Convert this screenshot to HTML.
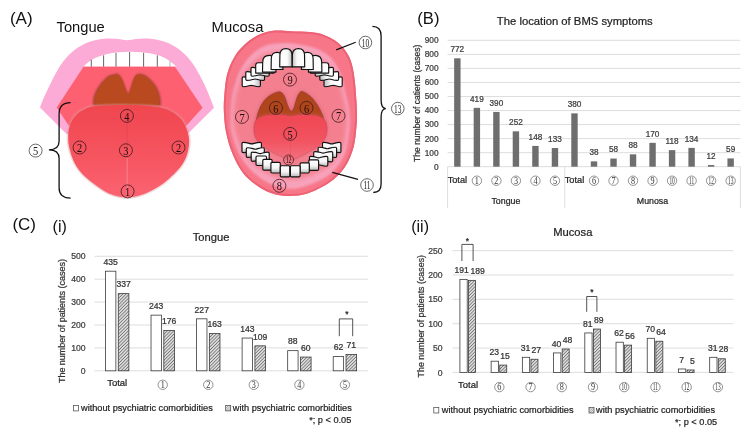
<!DOCTYPE html>
<html><head><meta charset="utf-8"><style>
html,body{margin:0;padding:0;background:#fff;}
body{width:750px;height:432px;overflow:hidden;position:relative;}
svg{position:absolute;left:0;top:0;display:block;will-change:transform;}
text{font-family:'Liberation Sans',sans-serif;}
.b text{stroke:#222;stroke-width:0.22px;paint-order:stroke;}
</style></head><body>
<svg width="750" height="432" viewBox="0 0 750 432">
<defs>
<pattern id="hatch" patternUnits="userSpaceOnUse" width="2.3" height="2.3" patternTransform="rotate(45)">
<rect width="2.3" height="2.3" fill="#dcdcdc"/><line x1="0" y1="0" x2="0" y2="2.3" stroke="#555" stroke-width="1.2"/>
</pattern>
<pattern id="hatch2" patternUnits="userSpaceOnUse" width="1.6" height="1.6" patternTransform="rotate(45)">
<rect width="1.6" height="1.6" fill="#eee"/><line x1="0" y1="0" x2="0" y2="1.6" stroke="#666" stroke-width="0.8"/>
</pattern>
</defs>
<rect width="750" height="432" fill="#fff"/>
<text x="9.9" y="24.2" font-size="17" fill="#111">(A)</text>
<text x="56.6" y="32" font-size="14.7" fill="#111">Tongue</text>
<text x="211.6" y="31.7" font-size="14.8" fill="#111">Mucosa</text>
<text x="417.3" y="24.1" font-size="16.6" fill="#111">(B)</text>
<text x="12.4" y="230.3" font-size="17" fill="#111">(C)</text>
<text x="52.6" y="231.6" font-size="16" fill="#111">(i)</text>
<text x="411.2" y="231.6" font-size="16" fill="#111">(ii)</text>
<defs>
<linearGradient id="tg" x1="0" y1="0" x2="0" y2="1">
<stop offset="0" stop-color="#f0464f"/><stop offset="0.5" stop-color="#f5535e"/><stop offset="1" stop-color="#fb6371"/>
</linearGradient>
<filter id="blur05" x="-5%" y="-5%" width="110%" height="110%"><feGaussianBlur stdDeviation="0.6"/></filter>
<filter id="blur1" x="-10%" y="-10%" width="120%" height="120%"><feGaussianBlur stdDeviation="0.9"/></filter>
<filter id="blur2" x="-10%" y="-10%" width="120%" height="120%"><feGaussianBlur stdDeviation="1.3"/></filter>
</defs>
<g id="tongueIllu">
<path d="M40,107.5 C40.67,105.8 42.57,100.65 44,97.3 C45.43,93.95 46.75,91.22 48.6,87.4 C50.45,83.58 52.78,78.57 55.1,74.4 C57.42,70.23 59.72,66.1 62.5,62.4 C65.28,58.7 68.4,55.13 71.8,52.2 C75.2,49.27 79.2,46.73 82.9,44.8 C86.6,42.87 90.15,41.63 94,40.6 C97.85,39.57 102,38.87 106,38.6 C110,38.33 114.47,38.73 118,39 C121.53,39.27 124.13,40.2 127.2,40.2 C130.27,40.2 132.87,39.27 136.4,39 C139.93,38.73 144.4,38.33 148.4,38.6 C152.4,38.87 156.55,39.57 160.4,40.6 C164.25,41.63 167.8,42.87 171.5,44.8 C175.2,46.73 179.2,49.27 182.6,52.2 C186,55.13 189.12,58.7 191.9,62.4 C194.68,66.1 196.98,70.23 199.3,74.4 C201.62,78.57 203.95,83.38 205.8,87.4 C207.65,91.42 209.03,95.1 210.4,98.5 C211.77,101.9 213.4,106.25 214,107.8 L187.6,134 L66.6,134 Z" fill="#fcabd6"/>
<path d="M83.5,66.6 C84.33,65.83 86.58,63.43 88.5,62 C90.42,60.57 92.48,59.17 95,58 C97.52,56.83 100.1,55.9 103.6,55 C107.1,54.1 111.67,53.15 116,52.6 C120.33,52.05 125,51.72 129.6,51.7 C134.2,51.68 138.98,51.95 143.6,52.5 C148.22,53.05 153.73,54.08 157.3,55 C160.87,55.92 162.72,56.83 165,58 C167.28,59.17 169.12,60.57 171,62 C172.88,63.43 175.42,65.83 176.3,66.6 Z" fill="#fff"/>
<g stroke="#555" stroke-width="0.9">
<line x1="91.3" y1="59.8" x2="91.3" y2="66.8"/>
<line x1="103.6" y1="55.3" x2="103.6" y2="66.8"/>
<line x1="116" y1="52.9" x2="116" y2="66.8"/>
<line x1="129.6" y1="52" x2="129.6" y2="66.8"/>
<line x1="143.6" y1="52.8" x2="143.6" y2="66.8"/>
<line x1="157.3" y1="55.3" x2="157.3" y2="66.8"/>
<line x1="170" y1="61" x2="170" y2="66.8" stroke="#aaa"/>
</g>
<path d="M83.5,66.8 L175,66.8 L202.6,107.8 L186,126 L69,126 L56.7,107.5 Z" fill="#fd6071"/>
<path d="M93.1,105.5 C93.17,104.25 92.97,100.5 93.5,98 C94.03,95.5 94.95,93.07 96.3,90.5 C97.65,87.93 99.62,84.98 101.6,82.6 C103.58,80.22 105.85,77.65 108.2,76.2 C110.55,74.75 113.87,74.1 115.7,73.9 C117.53,73.7 118.1,73.98 119.2,75 C120.3,76.02 121.3,77.92 122.3,80 C123.3,82.08 124.4,85.4 125.2,87.5 C126,89.6 126.62,91.45 127.1,92.6 C127.58,93.75 127.77,94.4 128.1,94.4 C128.43,94.4 128.62,93.75 129.1,92.6 C129.58,91.45 130.3,89.55 131,87.5 C131.7,85.45 132.53,82.25 133.3,80.3 C134.07,78.35 134.58,76.88 135.6,75.8 C136.62,74.72 137.6,73.77 139.4,73.8 C141.2,73.83 144.03,74.47 146.4,76 C148.77,77.53 151.62,80.58 153.6,83 C155.58,85.42 157.18,88 158.3,90.5 C159.42,93 159.88,95.5 160.3,98 C160.72,100.5 160.72,104.25 160.8,105.5 Z" fill="#9a4235" filter="url(#blur1)"/>
<path d="M93.1,105.5 C93.17,104.25 92.97,100.5 93.5,98 C94.03,95.5 94.95,93.07 96.3,90.5 C97.65,87.93 99.62,84.98 101.6,82.6 C103.58,80.22 105.85,77.65 108.2,76.2 C110.55,74.75 113.87,74.1 115.7,73.9 C117.53,73.7 118.1,73.98 119.2,75 C120.3,76.02 121.3,77.92 122.3,80 C123.3,82.08 124.4,85.4 125.2,87.5 C126,89.6 126.62,91.45 127.1,92.6 C127.58,93.75 127.77,94.4 128.1,94.4 C128.43,94.4 128.62,93.75 129.1,92.6 C129.58,91.45 130.3,89.55 131,87.5 C131.7,85.45 132.53,82.25 133.3,80.3 C134.07,78.35 134.58,76.88 135.6,75.8 C136.62,74.72 137.6,73.77 139.4,73.8 C141.2,73.83 144.03,74.47 146.4,76 C148.77,77.53 151.62,80.58 153.6,83 C155.58,85.42 157.18,88 158.3,90.5 C159.42,93 159.88,95.5 160.3,98 C160.72,100.5 160.72,104.25 160.8,105.5 Z" fill="#b9491e" transform="translate(126.5,92) scale(0.965) translate(-126.5,-92)"/>
<path d="M127.2,104.4 C133.03,104.45 139.53,104.42 145,104.8 C150.47,105.18 155.83,105.83 160,106.7 C164.17,107.57 167.08,108.7 170,110 C172.92,111.3 175.25,112.75 177.5,114.5 C179.75,116.25 181.87,118.25 183.5,120.5 C185.13,122.75 186.25,125.25 187.3,128 C188.35,130.75 189.38,134 189.8,137 C190.22,140 190.18,142.83 189.8,146 C189.42,149.17 188.88,152.5 187.5,156 C186.12,159.5 184.08,163.5 181.5,167 C178.92,170.5 174.83,174.23 172,177 C169.17,179.77 167.25,181.55 164.5,183.6 C161.75,185.65 158.6,187.55 155.5,189.3 C152.4,191.05 149.15,192.78 145.9,194.1 C142.65,195.42 139.12,196.5 136,197.2 C132.88,197.9 130.2,198.3 127.2,198.3 C124.2,198.3 121.12,197.9 118,197.2 C114.88,196.5 111.63,195.55 108.5,194.1 C105.37,192.65 102.03,190.35 99.2,188.5 C96.37,186.65 94.05,184.97 91.5,183 C88.95,181.03 86.32,179.12 83.9,176.7 C81.48,174.28 79.07,171.62 77,168.5 C74.93,165.38 73,161.75 71.5,158 C70,154.25 68.7,149.5 68,146 C67.3,142.5 67.3,139.92 67.3,137 C67.3,134.08 67.3,131.42 68,128.5 C68.7,125.58 69.92,122.17 71.5,119.5 C73.08,116.83 75.25,114.42 77.5,112.5 C79.75,110.58 82.12,109.2 85,108 C87.88,106.8 90.63,105.88 94.8,105.3 C98.97,104.72 104.6,104.65 110,104.5 C115.4,104.35 121.37,104.35 127.2,104.4 Z" fill="#dcc4c4" filter="url(#blur2)" opacity="0.5"/>
<path d="M127.2,104.4 C133.03,104.45 139.53,104.42 145,104.8 C150.47,105.18 155.83,105.83 160,106.7 C164.17,107.57 167.08,108.7 170,110 C172.92,111.3 175.25,112.75 177.5,114.5 C179.75,116.25 181.87,118.25 183.5,120.5 C185.13,122.75 186.25,125.25 187.3,128 C188.35,130.75 189.38,134 189.8,137 C190.22,140 190.18,142.83 189.8,146 C189.42,149.17 188.88,152.5 187.5,156 C186.12,159.5 184.08,163.5 181.5,167 C178.92,170.5 174.83,174.23 172,177 C169.17,179.77 167.25,181.55 164.5,183.6 C161.75,185.65 158.6,187.55 155.5,189.3 C152.4,191.05 149.15,192.78 145.9,194.1 C142.65,195.42 139.12,196.5 136,197.2 C132.88,197.9 130.2,198.3 127.2,198.3 C124.2,198.3 121.12,197.9 118,197.2 C114.88,196.5 111.63,195.55 108.5,194.1 C105.37,192.65 102.03,190.35 99.2,188.5 C96.37,186.65 94.05,184.97 91.5,183 C88.95,181.03 86.32,179.12 83.9,176.7 C81.48,174.28 79.07,171.62 77,168.5 C74.93,165.38 73,161.75 71.5,158 C70,154.25 68.7,149.5 68,146 C67.3,142.5 67.3,139.92 67.3,137 C67.3,134.08 67.3,131.42 68,128.5 C68.7,125.58 69.92,122.17 71.5,119.5 C73.08,116.83 75.25,114.42 77.5,112.5 C79.75,110.58 82.12,109.2 85,108 C87.88,106.8 90.63,105.88 94.8,105.3 C98.97,104.72 104.6,104.65 110,104.5 C115.4,104.35 121.37,104.35 127.2,104.4 Z" fill="none" stroke="#c9606a" stroke-width="0.7" opacity="0.3"/>
<path d="M127.2,104.4 C133.03,104.45 139.53,104.42 145,104.8 C150.47,105.18 155.83,105.83 160,106.7 C164.17,107.57 167.08,108.7 170,110 C172.92,111.3 175.25,112.75 177.5,114.5 C179.75,116.25 181.87,118.25 183.5,120.5 C185.13,122.75 186.25,125.25 187.3,128 C188.35,130.75 189.38,134 189.8,137 C190.22,140 190.18,142.83 189.8,146 C189.42,149.17 188.88,152.5 187.5,156 C186.12,159.5 184.08,163.5 181.5,167 C178.92,170.5 174.83,174.23 172,177 C169.17,179.77 167.25,181.55 164.5,183.6 C161.75,185.65 158.6,187.55 155.5,189.3 C152.4,191.05 149.15,192.78 145.9,194.1 C142.65,195.42 139.12,196.5 136,197.2 C132.88,197.9 130.2,198.3 127.2,198.3 C124.2,198.3 121.12,197.9 118,197.2 C114.88,196.5 111.63,195.55 108.5,194.1 C105.37,192.65 102.03,190.35 99.2,188.5 C96.37,186.65 94.05,184.97 91.5,183 C88.95,181.03 86.32,179.12 83.9,176.7 C81.48,174.28 79.07,171.62 77,168.5 C74.93,165.38 73,161.75 71.5,158 C70,154.25 68.7,149.5 68,146 C67.3,142.5 67.3,139.92 67.3,137 C67.3,134.08 67.3,131.42 68,128.5 C68.7,125.58 69.92,122.17 71.5,119.5 C73.08,116.83 75.25,114.42 77.5,112.5 C79.75,110.58 82.12,109.2 85,108 C87.88,106.8 90.63,105.88 94.8,105.3 C98.97,104.72 104.6,104.65 110,104.5 C115.4,104.35 121.37,104.35 127.2,104.4 Z" fill="url(#tg)" transform="translate(127.2,151) scale(0.985) translate(-127.2,-151)" filter="url(#blur05)"/>
<line x1="127.2" y1="106" x2="127.2" y2="158" stroke="#d64452" stroke-width="0.8" opacity="0.6"/>
<line x1="127.2" y1="158" x2="127.2" y2="196" stroke="#fb9aa4" stroke-width="0.9" opacity="0.7"/>
</g>
<defs>
<radialGradient id="mi" cx="0.5" cy="0.52" r="0.55">
<stop offset="0" stop-color="#f26878"/><stop offset="0.6" stop-color="#f37d8e"/><stop offset="0.9" stop-color="#f599ae"/><stop offset="1" stop-color="#f7a4ba"/>
</radialGradient>
<linearGradient id="mtg" x1="0" y1="0" x2="0" y2="1"><stop offset="0" stop-color="#ef4753"/><stop offset="0.55" stop-color="#f2525f"/><stop offset="1" stop-color="#f3707f"/></linearGradient>
<linearGradient id="tw" x1="0" y1="0" x2="1" y2="0"><stop offset="0" stop-color="#fff"/><stop offset="0.6" stop-color="#fafafa"/><stop offset="1" stop-color="#bdbdbd"/></linearGradient>
<linearGradient id="tw2" x1="1" y1="0" x2="0" y2="0"><stop offset="0" stop-color="#fff"/><stop offset="0.6" stop-color="#fafafa"/><stop offset="1" stop-color="#bdbdbd"/></linearGradient>
<linearGradient id="tl" x1="0" y1="0" x2="0" y2="1"><stop offset="0" stop-color="#fff"/><stop offset="0.55" stop-color="#f4f4f4"/><stop offset="1" stop-color="#b8b8b8"/></linearGradient>
<filter id="blur3" x="-20%" y="-20%" width="140%" height="140%"><feGaussianBlur stdDeviation="2.2"/></filter>
<filter id="blur5" x="-20%" y="-20%" width="140%" height="140%"><feGaussianBlur stdDeviation="0.6"/></filter>
<filter id="blur6" x="-20%" y="-20%" width="140%" height="140%"><feGaussianBlur stdDeviation="2.2"/></filter>
<filter id="blur05m" x="-5%" y="-5%" width="110%" height="110%"><feGaussianBlur stdDeviation="0.8"/></filter>
<filter id="blur4" x="-20%" y="-20%" width="140%" height="140%"><feGaussianBlur stdDeviation="1.2"/></filter>
</defs>
<g id="mucosaIllu">
<clipPath id="lipclip"><path d="M275,30.6 C280,30.15 284.97,31.05 290.8,31.3 C296.63,31.55 304.48,31.5 310,32.1 C315.52,32.7 319.73,33.52 323.9,34.9 C328.07,36.28 331.77,38.22 335,40.4 C338.23,42.58 340.87,45.1 343.3,48 C345.73,50.9 347.98,54.32 349.6,57.8 C351.22,61.28 352.15,65.2 353,68.9 C353.85,72.6 354.23,76.15 354.7,80 C355.17,83.85 355.43,87 355.8,92 C356.17,97 356.77,104.5 356.9,110 C357.03,115.5 357.17,118.77 356.6,125 C356.03,131.23 355.47,140.37 353.5,147.4 C351.53,154.43 348.82,161.33 344.8,167.2 C340.78,173.07 335.63,178.2 329.4,182.6 C323.17,187 313.97,191.37 307.4,193.6 C300.83,195.83 295.57,195.93 290,196 C284.43,196.07 279.17,195.5 274,194 C268.83,192.5 264.07,190.37 259,187 C253.93,183.63 248,179.3 243.6,173.8 C239.2,168.3 235.53,160.97 232.6,154 C229.67,147.03 227.47,139.33 226,132 C224.53,124.67 224.03,116.67 223.8,110 C223.57,103.33 224.18,97.33 224.6,92 C225.02,86.67 225.47,82.22 226.3,78 C227.13,73.78 228.25,70.2 229.6,66.7 C230.95,63.2 232.55,60.02 234.4,57 C236.25,53.98 238.15,51.38 240.7,48.6 C243.25,45.82 246.35,42.73 249.7,40.3 C253.05,37.87 256.58,35.62 260.8,34 C265.02,32.38 270,31.05 275,30.6 Z"/></clipPath>
<path d="M275,30.6 C280,30.15 284.97,31.05 290.8,31.3 C296.63,31.55 304.48,31.5 310,32.1 C315.52,32.7 319.73,33.52 323.9,34.9 C328.07,36.28 331.77,38.22 335,40.4 C338.23,42.58 340.87,45.1 343.3,48 C345.73,50.9 347.98,54.32 349.6,57.8 C351.22,61.28 352.15,65.2 353,68.9 C353.85,72.6 354.23,76.15 354.7,80 C355.17,83.85 355.43,87 355.8,92 C356.17,97 356.77,104.5 356.9,110 C357.03,115.5 357.17,118.77 356.6,125 C356.03,131.23 355.47,140.37 353.5,147.4 C351.53,154.43 348.82,161.33 344.8,167.2 C340.78,173.07 335.63,178.2 329.4,182.6 C323.17,187 313.97,191.37 307.4,193.6 C300.83,195.83 295.57,195.93 290,196 C284.43,196.07 279.17,195.5 274,194 C268.83,192.5 264.07,190.37 259,187 C253.93,183.63 248,179.3 243.6,173.8 C239.2,168.3 235.53,160.97 232.6,154 C229.67,147.03 227.47,139.33 226,132 C224.53,124.67 224.03,116.67 223.8,110 C223.57,103.33 224.18,97.33 224.6,92 C225.02,86.67 225.47,82.22 226.3,78 C227.13,73.78 228.25,70.2 229.6,66.7 C230.95,63.2 232.55,60.02 234.4,57 C236.25,53.98 238.15,51.38 240.7,48.6 C243.25,45.82 246.35,42.73 249.7,40.3 C253.05,37.87 256.58,35.62 260.8,34 C265.02,32.38 270,31.05 275,30.6 Z" fill="#f77789"/>
<path d="M275,30.6 C280,30.15 284.97,31.05 290.8,31.3 C296.63,31.55 304.48,31.5 310,32.1 C315.52,32.7 319.73,33.52 323.9,34.9 C328.07,36.28 331.77,38.22 335,40.4 C338.23,42.58 340.87,45.1 343.3,48 C345.73,50.9 347.98,54.32 349.6,57.8 C351.22,61.28 352.15,65.2 353,68.9 C353.85,72.6 354.23,76.15 354.7,80 C355.17,83.85 355.43,87 355.8,92 C356.17,97 356.77,104.5 356.9,110 C357.03,115.5 357.17,118.77 356.6,125 C356.03,131.23 355.47,140.37 353.5,147.4 C351.53,154.43 348.82,161.33 344.8,167.2 C340.78,173.07 335.63,178.2 329.4,182.6 C323.17,187 313.97,191.37 307.4,193.6 C300.83,195.83 295.57,195.93 290,196 C284.43,196.07 279.17,195.5 274,194 C268.83,192.5 264.07,190.37 259,187 C253.93,183.63 248,179.3 243.6,173.8 C239.2,168.3 235.53,160.97 232.6,154 C229.67,147.03 227.47,139.33 226,132 C224.53,124.67 224.03,116.67 223.8,110 C223.57,103.33 224.18,97.33 224.6,92 C225.02,86.67 225.47,82.22 226.3,78 C227.13,73.78 228.25,70.2 229.6,66.7 C230.95,63.2 232.55,60.02 234.4,57 C236.25,53.98 238.15,51.38 240.7,48.6 C243.25,45.82 246.35,42.73 249.7,40.3 C253.05,37.87 256.58,35.62 260.8,34 C265.02,32.38 270,31.05 275,30.6 Z" fill="none" stroke="#ee6275" stroke-width="4" clip-path="url(#lipclip)" filter="url(#blur5)"/>
<path d="M290.8,43.2 C296.47,43.72 305.42,45.67 310,46.7 C314.58,47.73 315.52,48.13 318.3,49.4 C321.08,50.67 324.03,52.2 326.7,54.3 C329.37,56.4 332.1,59.1 334.3,62 C336.5,64.9 338.4,68.23 339.9,71.7 C341.4,75.17 342.37,79.25 343.3,82.8 C344.23,86.35 344.63,89.3 345.5,93 C346.37,96.7 347.78,100.83 348.5,105 C349.22,109.17 349.68,113.5 349.8,118 C349.92,122.5 350.03,126 349.2,132 C348.37,138 347.73,147.22 344.8,154 C341.87,160.78 337.47,167.57 331.6,172.7 C325.73,177.83 316.53,182.13 309.6,184.8 C302.67,187.47 296.6,188.88 290,188.7 C283.4,188.52 276.27,186.55 270,183.7 C263.73,180.85 257.53,176.55 252.4,171.6 C247.27,166.65 242.68,160.6 239.2,154 C235.72,147.4 232.93,138.5 231.5,132 C230.07,125.5 230.52,120.83 230.6,115 C230.68,109.17 231.23,102.17 232,97 C232.77,91.83 233.98,88.13 235.2,84 C236.42,79.87 237.57,75.9 239.3,72.2 C241.03,68.5 243.17,65.03 245.6,61.8 C248.03,58.57 250.9,55.35 253.9,52.8 C256.9,50.25 259.92,48.03 263.6,46.5 C267.28,44.97 271.47,44.15 276,43.6 C280.53,43.05 285.13,42.68 290.8,43.2 Z" fill="#f7a2bb" filter="url(#blur05m)"/>
<path d="M290.8,43.2 C296.47,43.72 305.42,45.67 310,46.7 C314.58,47.73 315.52,48.13 318.3,49.4 C321.08,50.67 324.03,52.2 326.7,54.3 C329.37,56.4 332.1,59.1 334.3,62 C336.5,64.9 338.4,68.23 339.9,71.7 C341.4,75.17 342.37,79.25 343.3,82.8 C344.23,86.35 344.63,89.3 345.5,93 C346.37,96.7 347.78,100.83 348.5,105 C349.22,109.17 349.68,113.5 349.8,118 C349.92,122.5 350.03,126 349.2,132 C348.37,138 347.73,147.22 344.8,154 C341.87,160.78 337.47,167.57 331.6,172.7 C325.73,177.83 316.53,182.13 309.6,184.8 C302.67,187.47 296.6,188.88 290,188.7 C283.4,188.52 276.27,186.55 270,183.7 C263.73,180.85 257.53,176.55 252.4,171.6 C247.27,166.65 242.68,160.6 239.2,154 C235.72,147.4 232.93,138.5 231.5,132 C230.07,125.5 230.52,120.83 230.6,115 C230.68,109.17 231.23,102.17 232,97 C232.77,91.83 233.98,88.13 235.2,84 C236.42,79.87 237.57,75.9 239.3,72.2 C241.03,68.5 243.17,65.03 245.6,61.8 C248.03,58.57 250.9,55.35 253.9,52.8 C256.9,50.25 259.92,48.03 263.6,46.5 C267.28,44.97 271.47,44.15 276,43.6 C280.53,43.05 285.13,42.68 290.8,43.2 Z" fill="#f4808f" transform="translate(290,112) scale(0.95,0.88) translate(-290,-112)" filter="url(#blur6)"/>
<path d="M256.4,120.2 C256.4,117.37 257.75,113.2 259,110 C260.25,106.8 261.85,103.57 263.9,101 C265.95,98.43 268.9,96.12 271.3,94.6 C273.7,93.08 276.52,92.17 278.3,91.9 C280.08,91.63 280.95,92.23 282,93 C283.05,93.77 283.72,94.63 284.6,96.5 C285.48,98.37 286.47,102.02 287.3,104.2 C288.13,106.38 288.88,108.43 289.6,109.6 C290.32,110.77 290.93,111.38 291.6,111.2 C292.27,111.02 292.93,110.03 293.6,108.5 C294.27,106.97 294.93,104.08 295.6,102 C296.27,99.92 296.9,97.57 297.6,96 C298.3,94.43 299.02,93.37 299.8,92.6 C300.58,91.83 300.65,90.88 302.3,91.4 C303.95,91.92 307.4,93.75 309.7,95.7 C312,97.65 314.13,100.27 316.1,103.1 C318.07,105.93 320.25,110.03 321.5,112.7 C322.75,115.37 323.52,116.72 323.6,119.1 C323.68,121.48 327.52,125.02 322,127 C316.48,128.98 301,131 290.5,131 C280,131 264.68,128.8 259,127 C253.32,125.2 256.4,123.03 256.4,120.2 Z" fill="#c0505a" filter="url(#blur3)" opacity="0.7"/>
<path d="M256.4,120.2 C256.4,117.37 257.75,113.2 259,110 C260.25,106.8 261.85,103.57 263.9,101 C265.95,98.43 268.9,96.12 271.3,94.6 C273.7,93.08 276.52,92.17 278.3,91.9 C280.08,91.63 280.95,92.23 282,93 C283.05,93.77 283.72,94.63 284.6,96.5 C285.48,98.37 286.47,102.02 287.3,104.2 C288.13,106.38 288.88,108.43 289.6,109.6 C290.32,110.77 290.93,111.38 291.6,111.2 C292.27,111.02 292.93,110.03 293.6,108.5 C294.27,106.97 294.93,104.08 295.6,102 C296.27,99.92 296.9,97.57 297.6,96 C298.3,94.43 299.02,93.37 299.8,92.6 C300.58,91.83 300.65,90.88 302.3,91.4 C303.95,91.92 307.4,93.75 309.7,95.7 C312,97.65 314.13,100.27 316.1,103.1 C318.07,105.93 320.25,110.03 321.5,112.7 C322.75,115.37 323.52,116.72 323.6,119.1 C323.68,121.48 327.52,125.02 322,127 C316.48,128.98 301,131 290.5,131 C280,131 264.68,128.8 259,127 C253.32,125.2 256.4,123.03 256.4,120.2 Z" fill="#b0441c" stroke="#8a3a40" stroke-width="0.9" stroke-opacity="0.6" filter="url(#blur5)"/>
<path d="M290.5,115.8 C293.67,115.8 296.42,114.77 300,114.6 C303.58,114.43 308.5,114.4 312,114.8 C315.5,115.2 318.67,115.8 321,117 C323.33,118.2 324.97,119.83 326,122 C327.03,124.17 327.3,127.33 327.2,130 C327.1,132.67 326.6,135.5 325.4,138 C324.2,140.5 322.57,142.75 320,145 C317.43,147.25 313.33,149.58 310,151.5 C306.67,153.42 303.25,155.05 300,156.5 C296.75,157.95 293.67,160.2 290.5,160.2 C287.33,160.2 284.25,157.95 281,156.5 C277.75,155.05 274.33,153.42 271,151.5 C267.67,149.58 263.57,147.25 261,145 C258.43,142.75 256.8,140.5 255.6,138 C254.4,135.5 253.9,132.67 253.8,130 C253.7,127.33 253.97,124.17 255,122 C256.03,119.83 257.67,118.2 260,117 C262.33,115.8 265.5,115.2 269,114.8 C272.5,114.4 277.42,114.43 281,114.6 C284.58,114.77 287.33,115.8 290.5,115.8 Z" fill="#e86070" filter="url(#blur3)" opacity="0.6"/>
<path d="M290.5,115.8 C293.67,115.8 296.42,114.77 300,114.6 C303.58,114.43 308.5,114.4 312,114.8 C315.5,115.2 318.67,115.8 321,117 C323.33,118.2 324.97,119.83 326,122 C327.03,124.17 327.3,127.33 327.2,130 C327.1,132.67 326.6,135.5 325.4,138 C324.2,140.5 322.57,142.75 320,145 C317.43,147.25 313.33,149.58 310,151.5 C306.67,153.42 303.25,155.05 300,156.5 C296.75,157.95 293.67,160.2 290.5,160.2 C287.33,160.2 284.25,157.95 281,156.5 C277.75,155.05 274.33,153.42 271,151.5 C267.67,149.58 263.57,147.25 261,145 C258.43,142.75 256.8,140.5 255.6,138 C254.4,135.5 253.9,132.67 253.8,130 C253.7,127.33 253.97,124.17 255,122 C256.03,119.83 257.67,118.2 260,117 C262.33,115.8 265.5,115.2 269,114.8 C272.5,114.4 277.42,114.43 281,114.6 C284.58,114.77 287.33,115.8 290.5,115.8 Z" fill="url(#mtg)" filter="url(#blur5)"/>
<path d="M290.5,115.8 C293.67,115.8 296.42,114.77 300,114.6 C303.58,114.43 308.5,114.4 312,114.8 C315.5,115.2 318.67,115.8 321,117 C323.33,118.2 324.97,119.83 326,122 C327.03,124.17 327.3,127.33 327.2,130 C327.1,132.67 326.6,135.5 325.4,138 C324.2,140.5 322.57,142.75 320,145 C317.43,147.25 313.33,149.58 310,151.5 C306.67,153.42 303.25,155.05 300,156.5 C296.75,157.95 293.67,160.2 290.5,160.2 C287.33,160.2 284.25,157.95 281,156.5 C277.75,155.05 274.33,153.42 271,151.5 C267.67,149.58 263.57,147.25 261,145 C258.43,142.75 256.8,140.5 255.6,138 C254.4,135.5 253.9,132.67 253.8,130 C253.7,127.33 253.97,124.17 255,122 C256.03,119.83 257.67,118.2 260,117 C262.33,115.8 265.5,115.2 269,114.8 C272.5,114.4 277.42,114.43 281,114.6 C284.58,114.77 287.33,115.8 290.5,115.8 Z" fill="none" stroke="#8a4a5a" stroke-width="0.8" opacity="0.35" filter="url(#blur5)"/>
<line x1="290.5" y1="116" x2="290.5" y2="157" stroke="#d9505c" stroke-width="0.6" opacity="0.6"/>
<g stroke="#111" stroke-width="1.15" stroke-linejoin="round">
<path d="M242.2,78 Q242.2,76.8 243.4,76.8 C247.66,76.8 249.3,78.2 251.3,78.2 C253.3,78.2 254.94,76.8 259.2,76.8 Q260.4,76.8 260.4,78 L260.4,85.5 Q260.4,86.7 259.2,86.7 C254.94,86.7 253.3,85.3 251.3,85.3 C249.3,85.3 247.66,86.7 243.4,86.7 Q242.2,86.7 242.2,85.5 Z" fill="url(#tw)"/>
<path d="M324,78 Q324,76.8 325.2,76.8 C329.46,76.8 331.1,78.2 333.1,78.2 C335.1,78.2 336.74,76.8 341,76.8 Q342.2,76.8 342.2,78 L342.2,85.5 Q342.2,86.7 341,86.7 C336.74,86.7 335.1,85.3 333.1,85.3 C331.1,85.3 329.46,86.7 325.2,86.7 Q324,86.7 324,85.5 Z" fill="url(#tw2)"/>
<path d="M245.8,72.8 Q245.8,71.6 247,71.6 C251.44,71.6 253.2,73 255.2,73 C257.2,73 258.96,71.6 263.4,71.6 Q264.6,71.6 264.6,72.8 L264.6,79.2 Q264.6,80.4 263.4,80.4 C258.96,80.4 257.2,79 255.2,79 C253.2,79 251.44,80.4 247,80.4 Q245.8,80.4 245.8,79.2 Z" fill="url(#tw)"/>
<path d="M319.8,72.8 Q319.8,71.6 321,71.6 C325.44,71.6 327.2,73 329.2,73 C331.2,73 332.96,71.6 337.4,71.6 Q338.6,71.6 338.6,72.8 L338.6,79.2 Q338.6,80.4 337.4,80.4 C332.96,80.4 331.2,79 329.2,79 C327.2,79 325.44,80.4 321,80.4 Q319.8,80.4 319.8,79.2 Z" fill="url(#tw2)"/>
<path d="M251,68.6 Q251,67.4 252.2,67.4 C256.46,67.4 258.1,68.8 260.1,68.8 C262.1,68.8 263.74,67.4 268,67.4 Q269.2,67.4 269.2,68.6 L269.2,75 Q269.2,76.2 268,76.2 C263.74,76.2 262.1,74.8 260.1,74.8 C258.1,74.8 256.46,76.2 252.2,76.2 Q251,76.2 251,75 Z" fill="url(#tw)"/>
<path d="M315.2,68.6 Q315.2,67.4 316.4,67.4 C320.66,67.4 322.3,68.8 324.3,68.8 C326.3,68.8 327.94,67.4 332.2,67.4 Q333.4,67.4 333.4,68.6 L333.4,75 Q333.4,76.2 332.2,76.2 C327.94,76.2 326.3,74.8 324.3,74.8 C322.3,74.8 320.66,76.2 316.4,76.2 Q315.2,76.2 315.2,75 Z" fill="url(#tw2)"/>
<path d="M255.7,73.1 L255.7,65.2 Q255.7,62.7 258.2,62.7 L271.5,62.7 Q274,62.7 274,65.2 L274,73.1 Z" fill="url(#tw)"/>
<path d="M310.4,73.1 L310.4,65.2 Q310.4,62.7 312.9,62.7 L326.2,62.7 Q328.7,62.7 328.7,65.2 L328.7,73.1 Z" fill="url(#tw2)"/>
<path d="M262.5,72.1 L262.7,62.15 C262.8,56.75 265.47,55.4 269.25,55.4 C273.03,55.4 275.7,56.75 275.8,62.15 L276,72.1 Z" fill="url(#tw)"/>
<path d="M308.4,72.1 L308.6,62.15 C308.7,56.75 311.37,55.4 315.15,55.4 C318.93,55.4 321.6,56.75 321.7,62.15 L321.9,72.1 Z" fill="url(#tw2)"/>
<path d="M271.1,69.5 L271.3,58.25 C271.4,53.49 273.72,52.3 277.05,52.3 C280.38,52.3 282.7,53.49 282.8,58.25 L283,69.5 Z" fill="url(#tw)"/>
<path d="M301.4,69.5 L301.6,58.25 C301.7,53.49 304.02,52.3 307.35,52.3 C310.68,52.3 313,53.49 313.1,58.25 L313.3,69.5 Z" fill="url(#tw2)"/>
<path d="M279.7,66.8 L279.9,54.85 C280,49.85 282.45,48.6 285.95,48.6 C289.45,48.6 291.9,49.85 292,54.85 L292.2,66.8 Z" fill="url(#tw)"/>
<path d="M292.2,66.8 L292.4,54.85 C292.5,49.85 294.95,48.6 298.45,48.6 C301.95,48.6 304.4,49.85 304.5,54.85 L304.7,66.8 Z" fill="url(#tw2)"/>
<path d="M242,143.6 Q242,142.4 243.2,142.4 C247.82,142.4 249.7,143.9 251.7,143.9 C253.7,143.9 255.58,142.4 260.2,142.4 Q261.4,142.4 261.4,143.6 L261.4,151.4 Q261.4,152.6 260.2,152.6 C255.58,152.6 253.7,151.1 251.7,151.1 C249.7,151.1 247.82,152.6 243.2,152.6 Q242,152.6 242,151.4 Z" fill="url(#tl)"/>
<path d="M322.5,143.6 Q322.5,142.4 323.7,142.4 C328.02,142.4 329.7,143.9 331.7,143.9 C333.7,143.9 335.38,142.4 339.7,142.4 Q340.9,142.4 340.9,143.6 L340.9,151.4 Q340.9,152.6 339.7,152.6 C335.38,152.6 333.7,151.1 331.7,151.1 C329.7,151.1 328.02,152.6 323.7,152.6 Q322.5,152.6 322.5,151.4 Z" fill="url(#tl)"/>
<path d="M246.3,148.9 Q246.3,147.7 247.5,147.7 C251.7,147.7 253.3,149.2 255.3,149.2 C257.3,149.2 258.9,147.7 263.1,147.7 Q264.3,147.7 264.3,148.9 L264.3,156.2 Q264.3,157.4 263.1,157.4 C258.9,157.4 257.3,155.9 255.3,155.9 C253.3,155.9 251.7,157.4 247.5,157.4 Q246.3,157.4 246.3,156.2 Z" fill="url(#tl)"/>
<path d="M318.1,148.4 Q318.1,147.2 319.3,147.2 C323.65,147.2 325.35,148.7 327.35,148.7 C329.35,148.7 331.05,147.2 335.4,147.2 Q336.6,147.2 336.6,148.4 L336.6,156.3 Q336.6,157.5 335.4,157.5 C331.05,157.5 329.35,156 327.35,156 C325.35,156 323.65,157.5 319.3,157.5 Q318.1,157.5 318.1,156.3 Z" fill="url(#tl)"/>
<path d="M251.2,153.3 Q251.2,152.1 252.4,152.1 C256.6,152.1 258.2,153.6 260.2,153.6 C262.2,153.6 263.8,152.1 268,152.1 Q269.2,152.1 269.2,153.3 L269.2,160.1 Q269.2,161.3 268,161.3 C263.8,161.3 262.2,159.8 260.2,159.8 C258.2,159.8 256.6,161.3 252.4,161.3 Q251.2,161.3 251.2,160.1 Z" fill="url(#tl)"/>
<path d="M313.7,152.8 Q313.7,151.6 314.9,151.6 C319.4,151.6 321.2,153.1 323.2,153.1 C325.2,153.1 327,151.6 331.5,151.6 Q332.7,151.6 332.7,152.8 L332.7,160.6 Q332.7,161.8 331.5,161.8 C327,161.8 325.2,160.3 323.2,160.3 C321.2,160.3 319.4,161.8 314.9,161.8 Q313.7,161.8 313.7,160.6 Z" fill="url(#tl)"/>
<path d="M257.2,156 L265.3,156 Q266.5,156 266.5,157.2 L266.5,164.3 Q266.5,165.5 265.3,165.5 L257.2,165.5 Q256,165.5 256,164.3 L256,157.2 Q256,156 257.2,156 Z" fill="url(#tl)"/>
<path d="M309.5,157.5 Q309.5,156.3 310.7,156.3 C314.99,156.3 316.65,157.8 318.65,157.8 C320.65,157.8 322.31,156.3 326.6,156.3 Q327.8,156.3 327.8,157.5 L327.8,165 Q327.8,166.2 326.6,166.2 C322.31,166.2 320.65,164.7 318.65,164.7 C316.65,164.7 314.99,166.2 310.7,166.2 Q309.5,166.2 309.5,165 Z" fill="url(#tl)"/>
<path d="M264,159.4 L270.9,159.4 Q272.1,159.4 272.1,160.6 L272.1,168.9 Q272.1,170.1 270.9,170.1 L264,170.1 Q262.8,170.1 262.8,168.9 L262.8,160.6 Q262.8,159.4 264,159.4 Z" fill="url(#tl)"/>
<path d="M310,159.9 L317.4,159.9 Q318.6,159.9 318.6,161.1 L318.6,169.2 Q318.6,170.4 317.4,170.4 L310,170.4 Q308.8,170.4 308.8,169.2 L308.8,161.1 Q308.8,159.9 310,159.9 Z" fill="url(#tl)"/>
<path d="M272.1,162.3 L279.1,162.3 Q280.3,162.3 280.3,163.5 L280.3,171.8 Q280.3,173 279.1,173 L272.1,173 Q270.9,173 270.9,171.8 L270.9,163.5 Q270.9,162.3 272.1,162.3 Z" fill="url(#tl)"/>
<path d="M301.3,162.8 L308.1,162.8 Q309.3,162.8 309.3,164 L309.3,171.8 Q309.3,173 308.1,173 L301.3,173 Q300.1,173 300.1,171.8 L300.1,164 Q300.1,162.8 301.3,162.8 Z" fill="url(#tl)"/>
<path d="M281.5,165.7 L288.6,165.7 Q289.8,165.7 289.8,166.9 L289.8,175.7 Q289.8,176.9 288.6,176.9 L281.5,176.9 Q280.3,176.9 280.3,175.7 L280.3,166.9 Q280.3,165.7 281.5,165.7 Z" fill="url(#tl)"/>
<path d="M291.6,165.7 L298.9,165.7 Q300.1,165.7 300.1,166.9 L300.1,175.7 Q300.1,176.9 298.9,176.9 L291.6,176.9 Q290.4,176.9 290.4,175.7 L290.4,166.9 Q290.4,165.7 291.6,165.7 Z" fill="url(#tl)"/>
</g>
</g>
<circle cx="126.9" cy="115.9" r="6.5" fill="none" stroke="#3a1a1a" stroke-width="0.8"/><text transform="translate(126.9,120.58) scale(0.8,1)" font-size="13" text-anchor="middle" fill="#1a0a0a" style="font-family:'Liberation Serif',serif">4</text>
<circle cx="125.9" cy="150.3" r="6.5" fill="none" stroke="#3a1a1a" stroke-width="0.8"/><text transform="translate(125.9,154.98) scale(0.8,1)" font-size="13" text-anchor="middle" fill="#1a0a0a" style="font-family:'Liberation Serif',serif">3</text>
<circle cx="79.6" cy="147.5" r="6.5" fill="none" stroke="#3a1a1a" stroke-width="0.8"/><text transform="translate(79.6,152.18) scale(0.8,1)" font-size="13" text-anchor="middle" fill="#1a0a0a" style="font-family:'Liberation Serif',serif">2</text>
<circle cx="178.5" cy="147.5" r="6.5" fill="none" stroke="#3a1a1a" stroke-width="0.8"/><text transform="translate(178.5,152.18) scale(0.8,1)" font-size="13" text-anchor="middle" fill="#1a0a0a" style="font-family:'Liberation Serif',serif">2</text>
<circle cx="127.6" cy="191.4" r="6.5" fill="none" stroke="#3a1a1a" stroke-width="0.8"/><text transform="translate(127.6,196.08) scale(0.8,1)" font-size="13" text-anchor="middle" fill="#1a0a0a" style="font-family:'Liberation Serif',serif">1</text>
<circle cx="35.6" cy="150.6" r="6.5" fill="none" stroke="#444" stroke-width="0.8"/><text transform="translate(35.6,155.28) scale(0.8,1)" font-size="13" text-anchor="middle" fill="#222" style="font-family:'Liberation Serif',serif">5</text>
<path d="M70.6,102.6 C64,102.6 59.1,106 59.1,114 L59.1,141 C59.1,147 55,149.8 48.9,149.8 C55,149.8 59.1,152.5 59.1,158.5 L59.1,188 C59.1,195 64,198.2 70.6,198.2" fill="none" stroke="#111" stroke-width="1.3"/>
<circle cx="290" cy="79.6" r="6.5" fill="none" stroke="#3a1a1a" stroke-width="0.8"/><text transform="translate(290,84.28) scale(0.8,1)" font-size="13" text-anchor="middle" fill="#1a0a0a" style="font-family:'Liberation Serif',serif">9</text>
<circle cx="275.9" cy="107.9" r="6.5" fill="none" stroke="#3a1a1a" stroke-width="0.8"/><text transform="translate(275.9,112.58) scale(0.8,1)" font-size="13" text-anchor="middle" fill="#1a0a0a" style="font-family:'Liberation Serif',serif">6</text>
<circle cx="306.5" cy="107.9" r="6.5" fill="none" stroke="#3a1a1a" stroke-width="0.8"/><text transform="translate(306.5,112.58) scale(0.8,1)" font-size="13" text-anchor="middle" fill="#1a0a0a" style="font-family:'Liberation Serif',serif">6</text>
<circle cx="242" cy="116.9" r="6.5" fill="none" stroke="#3a1a1a" stroke-width="0.8"/><text transform="translate(242,121.58) scale(0.8,1)" font-size="13" text-anchor="middle" fill="#1a0a0a" style="font-family:'Liberation Serif',serif">7</text>
<circle cx="338.5" cy="115.8" r="6.5" fill="none" stroke="#3a1a1a" stroke-width="0.8"/><text transform="translate(338.5,120.48) scale(0.8,1)" font-size="13" text-anchor="middle" fill="#1a0a0a" style="font-family:'Liberation Serif',serif">7</text>
<circle cx="290.2" cy="133.9" r="6.5" fill="none" stroke="#3a1a1a" stroke-width="0.8"/><text transform="translate(290.2,138.58) scale(0.8,1)" font-size="13" text-anchor="middle" fill="#1a0a0a" style="font-family:'Liberation Serif',serif">5</text>
<circle cx="279.4" cy="185.8" r="6.5" fill="none" stroke="#3a1a1a" stroke-width="0.8"/><text transform="translate(279.4,190.48) scale(0.8,1)" font-size="13" text-anchor="middle" fill="#1a0a0a" style="font-family:'Liberation Serif',serif">8</text>
<circle cx="288.6" cy="159.9" r="5" fill="none" stroke="#3a1a1a" stroke-width="0.7"/><text transform="translate(288.6,163.32) scale(0.6,1)" font-size="9.5" text-anchor="middle" fill="#1a0a0a" style="font-family:'Liberation Serif',serif">12</text>
<circle cx="365.4" cy="42.5" r="6.3" fill="none" stroke="#444" stroke-width="0.8"/><text transform="translate(365.4,46.82) scale(0.62,1)" font-size="12" text-anchor="middle" fill="#1a1a1a" style="font-family:'Liberation Serif',serif">10</text>
<circle cx="367" cy="185" r="6.3" fill="none" stroke="#444" stroke-width="0.8"/><text transform="translate(367,189.32) scale(0.62,1)" font-size="12" text-anchor="middle" fill="#1a1a1a" style="font-family:'Liberation Serif',serif">11</text>
<circle cx="397.8" cy="108.6" r="6.3" fill="none" stroke="#444" stroke-width="0.8"/><text transform="translate(397.8,112.92) scale(0.62,1)" font-size="12" text-anchor="middle" fill="#1a1a1a" style="font-family:'Liberation Serif',serif">13</text>
<line x1="336.2" y1="49.9" x2="355.7" y2="42.2" stroke="#111" stroke-width="1.2"/>
<line x1="332.3" y1="172.3" x2="358" y2="179.4" stroke="#111" stroke-width="1.2"/>
<path d="M372.4,26.3 C378,26.3 381.1,29.5 381.1,36 L381.1,100 C381.1,105.5 382.8,108.4 385.8,108.6 C382.8,108.8 381.1,111.5 381.1,117 L381.1,184 C381.1,190 378,192.5 373.3,192.5" fill="none" stroke="#111" stroke-width="1.3"/>
<g class="b">
<line x1="447.6" y1="152.66" x2="740.4" y2="152.66" stroke="#d9d9d9" stroke-width="0.9"/>
<line x1="447.6" y1="138.62" x2="740.4" y2="138.62" stroke="#d9d9d9" stroke-width="0.9"/>
<line x1="447.6" y1="124.58" x2="740.4" y2="124.58" stroke="#d9d9d9" stroke-width="0.9"/>
<line x1="447.6" y1="110.54" x2="740.4" y2="110.54" stroke="#d9d9d9" stroke-width="0.9"/>
<line x1="447.6" y1="96.5" x2="740.4" y2="96.5" stroke="#d9d9d9" stroke-width="0.9"/>
<line x1="447.6" y1="82.46" x2="740.4" y2="82.46" stroke="#d9d9d9" stroke-width="0.9"/>
<line x1="447.6" y1="68.42" x2="740.4" y2="68.42" stroke="#d9d9d9" stroke-width="0.9"/>
<line x1="447.6" y1="54.38" x2="740.4" y2="54.38" stroke="#d9d9d9" stroke-width="0.9"/>
<line x1="447.6" y1="40.34" x2="740.4" y2="40.34" stroke="#d9d9d9" stroke-width="0.9"/>
<line x1="447.6" y1="166.7" x2="740.4" y2="166.7" stroke="#d9d9d9" stroke-width="0.9"/>
<line x1="447.6" y1="166.7" x2="447.6" y2="207.8" stroke="#d9d9d9" stroke-width="0.9"/>
<line x1="564.72" y1="166.7" x2="564.72" y2="207.8" stroke="#d9d9d9" stroke-width="0.9"/>
<line x1="740.4" y1="166.7" x2="740.4" y2="207.8" stroke="#d9d9d9" stroke-width="0.9"/>
<text x="438.6" y="169.6" font-size="8.3" text-anchor="end" fill="#404040">0</text>
<text x="438.6" y="155.56" font-size="8.3" text-anchor="end" fill="#404040">100</text>
<text x="438.6" y="141.52" font-size="8.3" text-anchor="end" fill="#404040">200</text>
<text x="438.6" y="127.48" font-size="8.3" text-anchor="end" fill="#404040">300</text>
<text x="438.6" y="113.44" font-size="8.3" text-anchor="end" fill="#404040">400</text>
<text x="438.6" y="99.4" font-size="8.3" text-anchor="end" fill="#404040">500</text>
<text x="438.6" y="85.36" font-size="8.3" text-anchor="end" fill="#404040">600</text>
<text x="438.6" y="71.32" font-size="8.3" text-anchor="end" fill="#404040">700</text>
<text x="438.6" y="57.28" font-size="8.3" text-anchor="end" fill="#404040">800</text>
<text x="438.6" y="43.24" font-size="8.3" text-anchor="end" fill="#404040">900</text>
<rect x="454.16" y="58.31" width="6.4" height="108.39" fill="#6e6e6e"/>
<text x="457.36" y="52.11" font-size="8.2" text-anchor="middle" fill="#404040">772</text>
<text x="457.36" y="182.5" font-size="9.2" text-anchor="middle" fill="#222">Total</text>
<rect x="473.68" y="107.87" width="6.4" height="58.83" fill="#6e6e6e"/>
<text x="476.88" y="101.67" font-size="8.2" text-anchor="middle" fill="#404040">419</text>
<circle cx="476.88" cy="180.7" r="4.7" fill="none" stroke="#666" stroke-width="0.7"/><text x="0" y="0" transform="translate(476.88,183.87) scale(0.85,1)" font-size="9.6" text-anchor="middle" fill="#333" style="font-family:'Liberation Serif',serif;stroke:none">1</text>
<rect x="493.2" y="111.94" width="6.4" height="54.76" fill="#6e6e6e"/>
<text x="496.4" y="105.74" font-size="8.2" text-anchor="middle" fill="#404040">390</text>
<circle cx="496.4" cy="180.7" r="4.7" fill="none" stroke="#666" stroke-width="0.7"/><text x="0" y="0" transform="translate(496.4,183.87) scale(0.85,1)" font-size="9.6" text-anchor="middle" fill="#333" style="font-family:'Liberation Serif',serif;stroke:none">2</text>
<rect x="512.72" y="131.32" width="6.4" height="35.38" fill="#6e6e6e"/>
<text x="515.92" y="125.12" font-size="8.2" text-anchor="middle" fill="#404040">252</text>
<circle cx="515.92" cy="180.7" r="4.7" fill="none" stroke="#666" stroke-width="0.7"/><text x="0" y="0" transform="translate(515.92,183.87) scale(0.85,1)" font-size="9.6" text-anchor="middle" fill="#333" style="font-family:'Liberation Serif',serif;stroke:none">3</text>
<rect x="532.24" y="145.92" width="6.4" height="20.78" fill="#6e6e6e"/>
<text x="535.44" y="139.72" font-size="8.2" text-anchor="middle" fill="#404040">148</text>
<circle cx="535.44" cy="180.7" r="4.7" fill="none" stroke="#666" stroke-width="0.7"/><text x="0" y="0" transform="translate(535.44,183.87) scale(0.85,1)" font-size="9.6" text-anchor="middle" fill="#333" style="font-family:'Liberation Serif',serif;stroke:none">4</text>
<rect x="551.76" y="148.03" width="6.4" height="18.67" fill="#6e6e6e"/>
<text x="554.96" y="141.83" font-size="8.2" text-anchor="middle" fill="#404040">133</text>
<circle cx="554.96" cy="180.7" r="4.7" fill="none" stroke="#666" stroke-width="0.7"/><text x="0" y="0" transform="translate(554.96,183.87) scale(0.85,1)" font-size="9.6" text-anchor="middle" fill="#333" style="font-family:'Liberation Serif',serif;stroke:none">5</text>
<rect x="571.28" y="113.35" width="6.4" height="53.35" fill="#6e6e6e"/>
<text x="574.48" y="107.15" font-size="8.2" text-anchor="middle" fill="#404040">380</text>
<text x="574.48" y="182.5" font-size="9.2" text-anchor="middle" fill="#222">Total</text>
<rect x="590.8" y="161.36" width="6.4" height="5.34" fill="#6e6e6e"/>
<text x="594" y="155.16" font-size="8.2" text-anchor="middle" fill="#404040">38</text>
<circle cx="594" cy="180.7" r="4.7" fill="none" stroke="#666" stroke-width="0.7"/><text x="0" y="0" transform="translate(594,183.87) scale(0.85,1)" font-size="9.6" text-anchor="middle" fill="#333" style="font-family:'Liberation Serif',serif;stroke:none">6</text>
<rect x="610.32" y="158.56" width="6.4" height="8.14" fill="#6e6e6e"/>
<text x="613.52" y="152.36" font-size="8.2" text-anchor="middle" fill="#404040">58</text>
<circle cx="613.52" cy="180.7" r="4.7" fill="none" stroke="#666" stroke-width="0.7"/><text x="0" y="0" transform="translate(613.52,183.87) scale(0.85,1)" font-size="9.6" text-anchor="middle" fill="#333" style="font-family:'Liberation Serif',serif;stroke:none">7</text>
<rect x="629.84" y="154.34" width="6.4" height="12.36" fill="#6e6e6e"/>
<text x="633.04" y="148.14" font-size="8.2" text-anchor="middle" fill="#404040">88</text>
<circle cx="633.04" cy="180.7" r="4.7" fill="none" stroke="#666" stroke-width="0.7"/><text x="0" y="0" transform="translate(633.04,183.87) scale(0.85,1)" font-size="9.6" text-anchor="middle" fill="#333" style="font-family:'Liberation Serif',serif;stroke:none">8</text>
<rect x="649.36" y="142.83" width="6.4" height="23.87" fill="#6e6e6e"/>
<text x="652.56" y="136.63" font-size="8.2" text-anchor="middle" fill="#404040">170</text>
<circle cx="652.56" cy="180.7" r="4.7" fill="none" stroke="#666" stroke-width="0.7"/><text x="0" y="0" transform="translate(652.56,183.87) scale(0.85,1)" font-size="9.6" text-anchor="middle" fill="#333" style="font-family:'Liberation Serif',serif;stroke:none">9</text>
<rect x="668.88" y="150.13" width="6.4" height="16.57" fill="#6e6e6e"/>
<text x="672.08" y="143.93" font-size="8.2" text-anchor="middle" fill="#404040">118</text>
<circle cx="672.08" cy="180.7" r="4.7" fill="none" stroke="#666" stroke-width="0.7"/><text x="0" y="0" transform="translate(672.08,183.87) scale(0.56,1)" font-size="9.6" text-anchor="middle" fill="#333" style="font-family:'Liberation Serif',serif;stroke:none">10</text>
<rect x="688.4" y="147.89" width="6.4" height="18.81" fill="#6e6e6e"/>
<text x="691.6" y="141.69" font-size="8.2" text-anchor="middle" fill="#404040">134</text>
<circle cx="691.6" cy="180.7" r="4.7" fill="none" stroke="#666" stroke-width="0.7"/><text x="0" y="0" transform="translate(691.6,183.87) scale(0.56,1)" font-size="9.6" text-anchor="middle" fill="#333" style="font-family:'Liberation Serif',serif;stroke:none">11</text>
<rect x="707.92" y="165.02" width="6.4" height="1.68" fill="#6e6e6e"/>
<text x="711.12" y="158.82" font-size="8.2" text-anchor="middle" fill="#404040">12</text>
<circle cx="711.12" cy="180.7" r="4.7" fill="none" stroke="#666" stroke-width="0.7"/><text x="0" y="0" transform="translate(711.12,183.87) scale(0.56,1)" font-size="9.6" text-anchor="middle" fill="#333" style="font-family:'Liberation Serif',serif;stroke:none">12</text>
<rect x="727.44" y="158.42" width="6.4" height="8.28" fill="#6e6e6e"/>
<text x="730.64" y="152.22" font-size="8.2" text-anchor="middle" fill="#404040">59</text>
<circle cx="730.64" cy="180.7" r="4.7" fill="none" stroke="#666" stroke-width="0.7"/><text x="0" y="0" transform="translate(730.64,183.87) scale(0.56,1)" font-size="9.6" text-anchor="middle" fill="#333" style="font-family:'Liberation Serif',serif;stroke:none">13</text>
<text x="505.9" y="204.4" font-size="8.8" text-anchor="middle" fill="#222">Tongue</text>
<text x="652.5" y="204.4" font-size="8.8" text-anchor="middle" fill="#222">Munosa</text>
<text transform="translate(419.8,103.3) rotate(-90)" font-size="8.5" text-anchor="middle" fill="#333">The number of catients (cases)</text>
<text x="574.8" y="25" font-size="11.27" text-anchor="middle" fill="#222">The location of BMS symptoms</text>
<line x1="94.4" y1="347.9" x2="367.7" y2="347.9" stroke="#d9d9d9" stroke-width="0.9"/>
<line x1="94.4" y1="325" x2="367.7" y2="325" stroke="#d9d9d9" stroke-width="0.9"/>
<line x1="94.4" y1="302.1" x2="367.7" y2="302.1" stroke="#d9d9d9" stroke-width="0.9"/>
<line x1="94.4" y1="279.2" x2="367.7" y2="279.2" stroke="#d9d9d9" stroke-width="0.9"/>
<line x1="94.4" y1="256.3" x2="367.7" y2="256.3" stroke="#d9d9d9" stroke-width="0.9"/>
<line x1="94.4" y1="370.8" x2="367.7" y2="370.8" stroke="#d9d9d9" stroke-width="0.9"/>
<text x="85.6" y="373.9" font-size="8.6" text-anchor="end" fill="#404040">0</text>
<text x="85.6" y="351" font-size="8.6" text-anchor="end" fill="#404040">100</text>
<text x="85.6" y="328.1" font-size="8.6" text-anchor="end" fill="#404040">200</text>
<text x="85.6" y="305.2" font-size="8.6" text-anchor="end" fill="#404040">300</text>
<text x="85.6" y="282.3" font-size="8.6" text-anchor="end" fill="#404040">400</text>
<text x="85.6" y="259.4" font-size="8.6" text-anchor="end" fill="#404040">500</text>
<rect x="105.47" y="271.19" width="10.4" height="99.62" fill="#fff" stroke="#3a3a3a" stroke-width="0.8"/>
<rect x="118.27" y="293.63" width="10.6" height="77.17" fill="url(#hatch)" stroke="#3a3a3a" stroke-width="0.8"/>
<text x="110.67" y="264.88" font-size="8.6" text-anchor="middle" fill="#333">435</text>
<text x="123.58" y="287.33" font-size="8.6" text-anchor="middle" fill="#333">337</text>
<text x="117.17" y="386.4" font-size="9.5" text-anchor="middle" fill="#222">Total</text>
<rect x="151.03" y="315.15" width="10.4" height="55.65" fill="#fff" stroke="#3a3a3a" stroke-width="0.8"/>
<rect x="163.82" y="330.5" width="10.6" height="40.3" fill="url(#hatch)" stroke="#3a3a3a" stroke-width="0.8"/>
<text x="156.22" y="308.85" font-size="8.6" text-anchor="middle" fill="#333">243</text>
<text x="169.12" y="324.2" font-size="8.6" text-anchor="middle" fill="#333">176</text>
<circle cx="162.72" cy="384.8" r="4.7" fill="none" stroke="#666" stroke-width="0.7"/><text x="0" y="0" transform="translate(162.72,387.97) scale(0.85,1)" font-size="9.6" text-anchor="middle" fill="#333" style="font-family:'Liberation Serif',serif;stroke:none">1</text>
<rect x="196.57" y="318.82" width="10.4" height="51.98" fill="#fff" stroke="#3a3a3a" stroke-width="0.8"/>
<rect x="209.37" y="333.47" width="10.6" height="37.33" fill="url(#hatch)" stroke="#3a3a3a" stroke-width="0.8"/>
<text x="201.77" y="312.52" font-size="8.6" text-anchor="middle" fill="#333">227</text>
<text x="214.67" y="327.17" font-size="8.6" text-anchor="middle" fill="#333">163</text>
<circle cx="208.27" cy="384.8" r="4.7" fill="none" stroke="#666" stroke-width="0.7"/><text x="0" y="0" transform="translate(208.27,387.97) scale(0.85,1)" font-size="9.6" text-anchor="middle" fill="#333" style="font-family:'Liberation Serif',serif;stroke:none">2</text>
<rect x="242.12" y="338.05" width="10.4" height="32.75" fill="#fff" stroke="#3a3a3a" stroke-width="0.8"/>
<rect x="254.92" y="345.84" width="10.6" height="24.96" fill="url(#hatch)" stroke="#3a3a3a" stroke-width="0.8"/>
<text x="247.32" y="331.75" font-size="8.6" text-anchor="middle" fill="#333">143</text>
<text x="260.22" y="339.54" font-size="8.6" text-anchor="middle" fill="#333">109</text>
<circle cx="253.82" cy="384.8" r="4.7" fill="none" stroke="#666" stroke-width="0.7"/><text x="0" y="0" transform="translate(253.82,387.97) scale(0.85,1)" font-size="9.6" text-anchor="middle" fill="#333" style="font-family:'Liberation Serif',serif;stroke:none">3</text>
<rect x="287.68" y="350.65" width="10.4" height="20.15" fill="#fff" stroke="#3a3a3a" stroke-width="0.8"/>
<rect x="300.48" y="357.06" width="10.6" height="13.74" fill="url(#hatch)" stroke="#3a3a3a" stroke-width="0.8"/>
<text x="292.88" y="344.35" font-size="8.6" text-anchor="middle" fill="#333">88</text>
<text x="305.77" y="350.76" font-size="8.6" text-anchor="middle" fill="#333">60</text>
<circle cx="299.38" cy="384.8" r="4.7" fill="none" stroke="#666" stroke-width="0.7"/><text x="0" y="0" transform="translate(299.38,387.97) scale(0.85,1)" font-size="9.6" text-anchor="middle" fill="#333" style="font-family:'Liberation Serif',serif;stroke:none">4</text>
<rect x="333.22" y="356.6" width="10.4" height="14.2" fill="#fff" stroke="#3a3a3a" stroke-width="0.8"/>
<rect x="346.02" y="354.54" width="10.6" height="16.26" fill="url(#hatch)" stroke="#3a3a3a" stroke-width="0.8"/>
<text x="338.42" y="350.3" font-size="8.6" text-anchor="middle" fill="#333">62</text>
<text x="351.32" y="348.24" font-size="8.6" text-anchor="middle" fill="#333">71</text>
<circle cx="344.92" cy="384.8" r="4.7" fill="none" stroke="#666" stroke-width="0.7"/><text x="0" y="0" transform="translate(344.92,387.97) scale(0.85,1)" font-size="9.6" text-anchor="middle" fill="#333" style="font-family:'Liberation Serif',serif;stroke:none">5</text>
<polyline points="339.3,336.2 339.3,318.9 352.7,318.9 352.7,336.2" fill="none" stroke="#404040" stroke-width="0.9"/>
<text x="346.9" y="317.2" font-size="8.5" text-anchor="middle" fill="#222">*</text>
<text x="211.1" y="241.3" font-size="11.2" text-anchor="middle" fill="#222">Tongue</text>
<text transform="translate(65.3,321.1) rotate(-90)" font-size="8.96" text-anchor="middle" fill="#333">The number of patients (cases)</text>
<line x1="452.5" y1="348.05" x2="733.5" y2="348.05" stroke="#d9d9d9" stroke-width="0.9"/>
<line x1="452.5" y1="323.7" x2="733.5" y2="323.7" stroke="#d9d9d9" stroke-width="0.9"/>
<line x1="452.5" y1="299.35" x2="733.5" y2="299.35" stroke="#d9d9d9" stroke-width="0.9"/>
<line x1="452.5" y1="275" x2="733.5" y2="275" stroke="#d9d9d9" stroke-width="0.9"/>
<line x1="452.5" y1="250.65" x2="733.5" y2="250.65" stroke="#d9d9d9" stroke-width="0.9"/>
<line x1="452.5" y1="372.4" x2="733.5" y2="372.4" stroke="#d9d9d9" stroke-width="0.9"/>
<text x="442.6" y="375.5" font-size="8.6" text-anchor="end" fill="#404040">0</text>
<text x="442.6" y="351.15" font-size="8.6" text-anchor="end" fill="#404040">50</text>
<text x="442.6" y="326.8" font-size="8.6" text-anchor="end" fill="#404040">100</text>
<text x="442.6" y="302.45" font-size="8.6" text-anchor="end" fill="#404040">150</text>
<text x="442.6" y="278.1" font-size="8.6" text-anchor="end" fill="#404040">200</text>
<text x="442.6" y="253.75" font-size="8.6" text-anchor="end" fill="#404040">250</text>
<rect x="459.91" y="279.38" width="7.3" height="93.02" fill="#fff" stroke="#3a3a3a" stroke-width="0.8"/>
<rect x="468.51" y="280.36" width="7" height="92.04" fill="url(#hatch)" stroke="#3a3a3a" stroke-width="0.8"/>
<text x="461.66" y="273.08" font-size="8.6" text-anchor="middle" fill="#333">191</text>
<text x="477.61" y="274.06" font-size="8.6" text-anchor="middle" fill="#333">189</text>
<text x="468.11" y="388" font-size="9.5" text-anchor="middle" fill="#222">Total</text>
<rect x="491.13" y="361.2" width="7.3" height="11.2" fill="#fff" stroke="#3a3a3a" stroke-width="0.8"/>
<rect x="499.73" y="365.09" width="7" height="7.31" fill="url(#hatch)" stroke="#3a3a3a" stroke-width="0.8"/>
<text x="494.18" y="354.9" font-size="8.6" text-anchor="middle" fill="#333">23</text>
<text x="505.03" y="358.79" font-size="8.6" text-anchor="middle" fill="#333">15</text>
<circle cx="499.33" cy="387.1" r="4.7" fill="none" stroke="#666" stroke-width="0.7"/><text x="0" y="0" transform="translate(499.33,390.27) scale(0.85,1)" font-size="9.6" text-anchor="middle" fill="#333" style="font-family:'Liberation Serif',serif;stroke:none">6</text>
<rect x="522.36" y="357.3" width="7.3" height="15.1" fill="#fff" stroke="#3a3a3a" stroke-width="0.8"/>
<rect x="530.96" y="359.25" width="7" height="13.15" fill="url(#hatch)" stroke="#3a3a3a" stroke-width="0.8"/>
<text x="525.41" y="351" font-size="8.6" text-anchor="middle" fill="#333">31</text>
<text x="536.26" y="352.95" font-size="8.6" text-anchor="middle" fill="#333">27</text>
<circle cx="530.56" cy="387.1" r="4.7" fill="none" stroke="#666" stroke-width="0.7"/><text x="0" y="0" transform="translate(530.56,390.27) scale(0.85,1)" font-size="9.6" text-anchor="middle" fill="#333" style="font-family:'Liberation Serif',serif;stroke:none">7</text>
<rect x="553.58" y="352.92" width="7.3" height="19.48" fill="#fff" stroke="#3a3a3a" stroke-width="0.8"/>
<rect x="562.18" y="349.02" width="7" height="23.38" fill="url(#hatch)" stroke="#3a3a3a" stroke-width="0.8"/>
<text x="556.63" y="346.62" font-size="8.6" text-anchor="middle" fill="#333">40</text>
<text x="567.48" y="342.72" font-size="8.6" text-anchor="middle" fill="#333">48</text>
<circle cx="561.78" cy="387.1" r="4.7" fill="none" stroke="#666" stroke-width="0.7"/><text x="0" y="0" transform="translate(561.78,390.27) scale(0.85,1)" font-size="9.6" text-anchor="middle" fill="#333" style="font-family:'Liberation Serif',serif;stroke:none">8</text>
<rect x="584.8" y="332.95" width="7.3" height="39.45" fill="#fff" stroke="#3a3a3a" stroke-width="0.8"/>
<rect x="593.4" y="329.06" width="7" height="43.34" fill="url(#hatch)" stroke="#3a3a3a" stroke-width="0.8"/>
<text x="587.85" y="326.65" font-size="8.6" text-anchor="middle" fill="#333">81</text>
<text x="598.7" y="322.76" font-size="8.6" text-anchor="middle" fill="#333">89</text>
<circle cx="593" cy="387.1" r="4.7" fill="none" stroke="#666" stroke-width="0.7"/><text x="0" y="0" transform="translate(593,390.27) scale(0.85,1)" font-size="9.6" text-anchor="middle" fill="#333" style="font-family:'Liberation Serif',serif;stroke:none">9</text>
<rect x="616.02" y="342.21" width="7.3" height="30.19" fill="#fff" stroke="#3a3a3a" stroke-width="0.8"/>
<rect x="624.62" y="345.13" width="7" height="27.27" fill="url(#hatch)" stroke="#3a3a3a" stroke-width="0.8"/>
<text x="619.07" y="335.91" font-size="8.6" text-anchor="middle" fill="#333">62</text>
<text x="629.92" y="338.83" font-size="8.6" text-anchor="middle" fill="#333">56</text>
<circle cx="624.22" cy="387.1" r="4.7" fill="none" stroke="#666" stroke-width="0.7"/><text x="0" y="0" transform="translate(624.22,390.27) scale(0.56,1)" font-size="9.6" text-anchor="middle" fill="#333" style="font-family:'Liberation Serif',serif;stroke:none">10</text>
<rect x="647.24" y="338.31" width="7.3" height="34.09" fill="#fff" stroke="#3a3a3a" stroke-width="0.8"/>
<rect x="655.84" y="341.23" width="7" height="31.17" fill="url(#hatch)" stroke="#3a3a3a" stroke-width="0.8"/>
<text x="650.29" y="332.01" font-size="8.6" text-anchor="middle" fill="#333">70</text>
<text x="661.14" y="334.93" font-size="8.6" text-anchor="middle" fill="#333">64</text>
<circle cx="655.44" cy="387.1" r="4.7" fill="none" stroke="#666" stroke-width="0.7"/><text x="0" y="0" transform="translate(655.44,390.27) scale(0.56,1)" font-size="9.6" text-anchor="middle" fill="#333" style="font-family:'Liberation Serif',serif;stroke:none">11</text>
<rect x="678.47" y="368.99" width="7.3" height="3.41" fill="#fff" stroke="#3a3a3a" stroke-width="0.8"/>
<rect x="687.07" y="369.96" width="7" height="2.44" fill="url(#hatch)" stroke="#3a3a3a" stroke-width="0.8"/>
<text x="681.52" y="362.69" font-size="8.6" text-anchor="middle" fill="#333">7</text>
<text x="692.37" y="363.66" font-size="8.6" text-anchor="middle" fill="#333">5</text>
<circle cx="686.67" cy="387.1" r="4.7" fill="none" stroke="#666" stroke-width="0.7"/><text x="0" y="0" transform="translate(686.67,390.27) scale(0.56,1)" font-size="9.6" text-anchor="middle" fill="#333" style="font-family:'Liberation Serif',serif;stroke:none">12</text>
<rect x="709.69" y="357.3" width="7.3" height="15.1" fill="#fff" stroke="#3a3a3a" stroke-width="0.8"/>
<rect x="718.29" y="358.76" width="7" height="13.64" fill="url(#hatch)" stroke="#3a3a3a" stroke-width="0.8"/>
<text x="712.74" y="351" font-size="8.6" text-anchor="middle" fill="#333">31</text>
<text x="723.59" y="352.46" font-size="8.6" text-anchor="middle" fill="#333">28</text>
<circle cx="717.89" cy="387.1" r="4.7" fill="none" stroke="#666" stroke-width="0.7"/><text x="0" y="0" transform="translate(717.89,390.27) scale(0.56,1)" font-size="9.6" text-anchor="middle" fill="#333" style="font-family:'Liberation Serif',serif;stroke:none">13</text>
<polyline points="461.9,261 461.9,244.4 473.1,244.4 473.1,261" fill="none" stroke="#404040" stroke-width="0.9"/>
<text x="467.5" y="243.8" font-size="8.5" text-anchor="middle" fill="#222">*</text>
<polyline points="586.7,311.8 586.7,296.5 596.9,296.5 596.9,311.8" fill="none" stroke="#404040" stroke-width="0.9"/>
<text x="591.8" y="294.7" font-size="8.5" text-anchor="middle" fill="#222">*</text>
<text x="572.8" y="236.3" font-size="11.2" text-anchor="middle" fill="#222">Mucosa</text>
<text transform="translate(423.7,316.2) rotate(-90)" font-size="8.86" text-anchor="middle" fill="#333">The number of patients (cases)</text>
<rect x="73.6" y="405.5" width="5" height="5.4" fill="#fff" stroke="#444" stroke-width="0.7"/>
<text x="81" y="411.2" font-size="9.2" fill="#222">without psychiatric comorbidities</text>
<rect x="225.7" y="405.5" width="5" height="5.4" fill="url(#hatch2)" stroke="#444" stroke-width="0.7"/>
<text x="232.8" y="411.2" font-size="9.2" fill="#222">with psychiatric comorbidities</text>
<text x="351.3" y="423" font-size="9.2" text-anchor="end" fill="#222">*; p &lt; 0.05</text>
<rect x="433.8" y="407.6" width="5" height="5.4" fill="#fff" stroke="#444" stroke-width="0.7"/>
<text x="441.8" y="413" font-size="9.2" fill="#222">without psychiatric comorbidities</text>
<rect x="589" y="407.6" width="5" height="5.4" fill="url(#hatch2)" stroke="#444" stroke-width="0.7"/>
<text x="596.1" y="413" font-size="9.2" fill="#222">with psychiatric comorbidities</text>
<text x="717.2" y="424.8" font-size="9.2" text-anchor="end" fill="#222">*; p &lt; 0.05</text>
</g>
</svg>
</body></html>
